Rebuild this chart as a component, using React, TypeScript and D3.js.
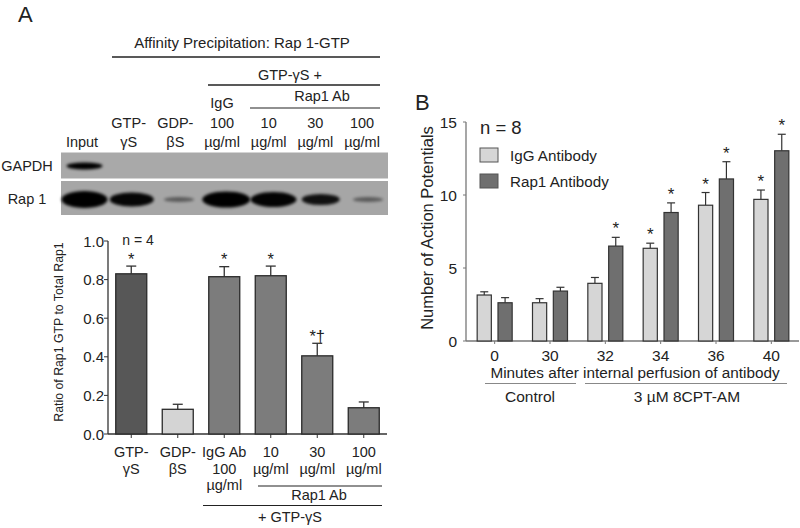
import React from "react";
import * as d3 from "d3";

// ---------- Panel A data ----------
const blotLanes = ["Input", "GTP-γS", "GDP-βS", "IgG 100", "Rap1 10", "Rap1 30", "Rap1 100"];
const laneLabelRows = [
  ["", "", "", "IgG", "", "", ""],
  ["", "GTP-", "GDP-", "100", "10", "30", "100"],
  ["Input", "γS", "βS", "µg/ml", "µg/ml", "µg/ml", "µg/ml"],
];
const gapdhIntensity = [1, 0, 0, 0, 0, 0, 0];
const rap1Intensity = [1, 0.97, 0.45, 1, 0.98, 0.9, 0.45];
const rap1BandWidth = [46, 44, 30, 48, 46, 38, 30];
const rap1BandHeight = [17, 14, 5, 16, 15, 11, 5];

const catsA = ["GTP-γS", "GDP-βS", "IgG Ab 100 µg/ml", "10 µg/ml", "30 µg/ml", "100 µg/ml"];
const catLabelRows = [
  ["GTP-", "GDP-", "IgG Ab", "10", "30", "100"],
  ["γS", "βS", "100", "µg/ml", "µg/ml", "µg/ml"],
  ["", "", "µg/ml", "", "", ""],
];
const ratioMean = [0.83, 0.128, 0.815, 0.82, 0.405, 0.136];
const ratioErr = [0.04, 0.026, 0.052, 0.05, 0.065, 0.03];
const ratioMark = ["*", "", "*", "*", "*†", ""];
const ratioFill = ["#575757", "#d4d4d4", "#7c7c7c", "#7c7c7c", "#7c7c7c", "#7c7c7c"];
const ratioTicks = [0, 0.2, 0.4, 0.6, 0.8, 1.0];

// ---------- Panel B data ----------
const minutes = ["0", "30", "32", "34", "36", "40"];
const series = ["IgG Antibody", "Rap1 Antibody"];
const iggMean = [3.15, 2.62, 3.95, 6.35, 9.3, 9.7];
const iggErr = [0.22, 0.28, 0.4, 0.35, 0.87, 0.64];
const rap1Mean = [2.62, 3.42, 6.5, 8.8, 11.1, 13.03];
const rap1Err = [0.35, 0.26, 0.6, 0.66, 1.18, 1.13];
const iggStar = [false, false, false, true, true, true];
const rap1Star = [false, false, true, true, true, true];
const seriesFill = ["#d6d6d6", "#6f6f6f"];
const apTicks = [0, 5, 10, 15];

const FONT = "'Liberation Sans', Arial, Helvetica, sans-serif";
const INK = "#222";

export default function App() {
  // Panel A scales
  const laneX = d3.scalePoint<string>().domain(blotLanes).range([82, 362]);
  const bandX = d3.scalePoint<string>().domain(blotLanes).range([84.5, 368]);
  const xA = d3.scaleBand<string>().domain(catsA).range([108, 387]).paddingInner(1 / 3).paddingOuter(1 / 6);
  const yA = d3.scaleLinear().domain([0, 1]).range([434, 241]);

  // Panel B scales
  const xB = d3.scalePoint<string>().domain(minutes).range([467, 799]).padding(0.5);
  const xB1 = d3.scaleBand<string>().domain(series).range([-17.5, 17.5]).paddingInner(0.32);
  const yB = d3.scaleLinear().domain([0, 15]).range([341, 122]);

  const bMeans = [iggMean, rap1Mean];
  const bErrs = [iggErr, rap1Err];
  const bStars = [iggStar, rap1Star];

  const rowYLane = [108, 128, 146.5];
  const rowYCat = [457, 473.5, 490];
  const fsA = 14.5;

  return (
    <svg width={800} height={528} style={{ position: "absolute", left: 0, top: 0, background: "#fff" }} fontFamily={FONT}>
      <defs>
        <filter id="blur" x="-50%" y="-100%" width="200%" height="300%">
          <feGaussianBlur stdDeviation="1.6" />
        </filter>
      </defs>
      <rect width={800} height={528} fill="#fff" />

      {/* ---------- Panel A header ---------- */}
      <text x={18} y={22} fontSize={22} fill={INK}>A</text>
      <text x={242} y={48} fontSize={15} textAnchor="middle" fill={INK}>Affinity Precipitation: Rap 1-GTP</text>
      <line x1={112} x2={380} y1={57} y2={57} stroke={INK} strokeWidth={1.5} />
      <text x={290} y={80} fontSize={fsA} textAnchor="middle" fill={INK}>GTP-γS +</text>
      <line x1={208} x2={380} y1={85} y2={85} stroke={INK} strokeWidth={1.5} />
      <text x={322} y={101} fontSize={fsA} textAnchor="middle" fill={INK}>Rap1 Ab</text>
      <line x1={250} x2={380} y1={108} y2={108} stroke={INK} strokeWidth={1.2} />
      {laneLabelRows.map((row, ri) =>
        row.map((t, i) =>
          t ? (
            <text key={`ll${ri}-${i}`} x={laneX(blotLanes[i])} y={rowYLane[ri]} fontSize={fsA} textAnchor="middle" fill={INK}>
              {t}
            </text>
          ) : null
        )
      )}

      {/* Blot */}
      <rect x={61} y={152.5} width={327} height={26} fill="#a9a9a9" />
      <rect x={61} y={181} width={327} height={34} fill="#a6a6a6" />
      <text x={27} y={170.5} fontSize={fsA} textAnchor="middle" fill={INK}>GAPDH</text>
      <text x={27} y={204} fontSize={fsA} textAnchor="middle" fill={INK}>Rap 1</text>
      {blotLanes.map((l, i) =>
        gapdhIntensity[i] > 0 ? (
          <ellipse key={`g${i}`} cx={bandX(l)} cy={166} rx={18} ry={3.4} fill="#050505" opacity={gapdhIntensity[i]} filter="url(#blur)" />
        ) : null
      )}
      {blotLanes.map((l, i) => (
        <ellipse
          key={`r${i}`}
          cx={bandX(l)}
          cy={199.5}
          rx={rap1BandWidth[i] / 2}
          ry={rap1BandHeight[i] / 2}
          fill="#030303"
          opacity={rap1Intensity[i]}
          filter="url(#blur)"
        />
      ))}

      {/* ---------- Panel A chart ---------- */}
      <text transform={`translate(63,332) rotate(-90)`} fontSize={12.3} textAnchor="middle" fill={INK}>
        Ratio of Rap1 GTP to Total Rap1
      </text>
      <line x1={108} x2={108} y1={yA(1)} y2={yA(0)} stroke="#333" strokeWidth={1.3} />
      <line x1={108} x2={387} y1={yA(0)} y2={yA(0)} stroke="#333" strokeWidth={1.3} />
      {ratioTicks.map((t) => (
        <g key={`ta${t}`}>
          <line x1={104} x2={108} y1={yA(t)} y2={yA(t)} stroke="#333" />
          <text x={104} y={yA(t) + 5.5} fontSize={15} textAnchor="end" fill={INK}>
            {d3.format(".1f")(t)}
          </text>
        </g>
      ))}
      <text x={138} y={245} fontSize={14} textAnchor="middle" fill={INK}>n = 4</text>
      {catsA.map((c, i) => {
        const x0 = xA(c)!;
        const w = xA.bandwidth();
        const cx = x0 + w / 2;
        const top = yA(ratioMean[i]);
        const et = yA(ratioMean[i] + ratioErr[i]);
        return (
          <g key={`ba${i}`}>
            <line x1={cx} x2={cx} y1={yA(0)} y2={yA(0) + 4} stroke="#333" />
            <line x1={cx} x2={cx} y1={top} y2={et} stroke="#333" strokeWidth={1.3} />
            <line x1={cx - 5} x2={cx + 5} y1={et} y2={et} stroke="#333" strokeWidth={1.3} />
            <rect x={x0} y={top} width={w} height={yA(0) - top} fill={ratioFill[i]} stroke="#2a2a2a" strokeWidth={1.3} />
            {ratioMark[i] ? (
              <text x={cx} y={et - 1.5} fontSize={16.5} textAnchor="middle" fill={INK}>
                {ratioMark[i]}
              </text>
            ) : null}
          </g>
        );
      })}
      {catLabelRows.map((row, ri) =>
        row.map((t, i) =>
          t ? (
            <text key={`cl${ri}-${i}`} x={xA(catsA[i])! + xA.bandwidth() / 2} y={rowYCat[ri]} fontSize={fsA} textAnchor="middle" fill={INK}>
              {t}
            </text>
          ) : null
        )
      )}
      <line x1={258} x2={382} y1={486} y2={486} stroke={INK} strokeWidth={1.2} />
      <text x={319} y={500} fontSize={fsA} textAnchor="middle" fill={INK}>Rap1 Ab</text>
      <line x1={203} x2={382} y1={505.5} y2={505.5} stroke={INK} strokeWidth={1.2} />
      <text x={290} y={522} fontSize={fsA} textAnchor="middle" fill={INK}>+ GTP-γS</text>

      {/* ---------- Panel B ---------- */}
      <text x={415} y={110} fontSize={22} fill={INK}>B</text>
      <text transform={`translate(433,228) rotate(-90)`} fontSize={16.5} textAnchor="middle" fill={INK}>
        Number of Action Potentials
      </text>
      <line x1={466} x2={466} y1={yB(15)} y2={yB(0)} stroke="#777" strokeWidth={1.3} />
      <line x1={466} x2={799} y1={yB(0)} y2={yB(0)} stroke="#777" strokeWidth={1.3} />
      {apTicks.map((t) => (
        <g key={`tb${t}`}>
          <line x1={463} x2={466} y1={yB(t)} y2={yB(t)} stroke="#777" />
          <text x={457} y={yB(t) + 5.5} fontSize={15.5} textAnchor="end" fill={INK}>
            {t}
          </text>
        </g>
      ))}
      <text x={480} y={134} fontSize={18.5} fill={INK}>n = 8</text>
      {series.map((s, si) => (
        <g key={`lg${si}`}>
          <rect x={480} y={148 + si * 26} width={18} height={14} fill={seriesFill[si]} stroke="#555" strokeWidth={1} />
          <text x={510} y={160.5 + si * 26} fontSize={15.2} fill={INK}>
            {s}
          </text>
        </g>
      ))}
      {minutes.map((m, gi) => {
        const cx = xB(m)!;
        return (
          <g key={`gb${gi}`}>
            <line x1={cx} x2={cx} y1={yB(0)} y2={yB(0) + 3} stroke="#777" />
            <text x={cx} y={361} fontSize={15.5} textAnchor="middle" fill={INK}>
              {m}
            </text>
            {series.map((s, si) => {
              const x0 = cx + xB1(s)!;
              const w = xB1.bandwidth();
              const bx = x0 + w / 2;
              const v = bMeans[si][gi];
              const top = yB(v);
              const et = yB(v + bErrs[si][gi]);
              return (
                <g key={`bb${gi}-${si}`}>
                  <line x1={bx} x2={bx} y1={top} y2={et} stroke="#333" strokeWidth={1.2} />
                  <line x1={bx - 4} x2={bx + 4} y1={et} y2={et} stroke="#333" strokeWidth={1.2} />
                  <rect x={x0} y={top} width={w} height={yB(0) - top} fill={seriesFill[si]} stroke="#333" strokeWidth={1.2} />
                  {bStars[si][gi] ? (
                    <text x={bx} y={et - 3} fontSize={17} textAnchor="middle" fill={INK}>
                      *
                    </text>
                  ) : null}
                </g>
              );
            })}
          </g>
        );
      })}
      <text x={635} y={378} fontSize={15.3} textAnchor="middle" fill={INK}>Minutes after internal perfusion of antibody</text>
      <line x1={485} x2={576} y1={383.5} y2={383.5} stroke="#888" strokeWidth={1.2} />
      <line x1={585} x2={787} y1={383.5} y2={383.5} stroke="#888" strokeWidth={1.2} />
      <text x={530} y={402} fontSize={15.5} textAnchor="middle" fill={INK}>Control</text>
      <text x={687} y={402} fontSize={15.5} textAnchor="middle" fill={INK}>3 µM 8CPT-AM</text>
    </svg>
  );
}
